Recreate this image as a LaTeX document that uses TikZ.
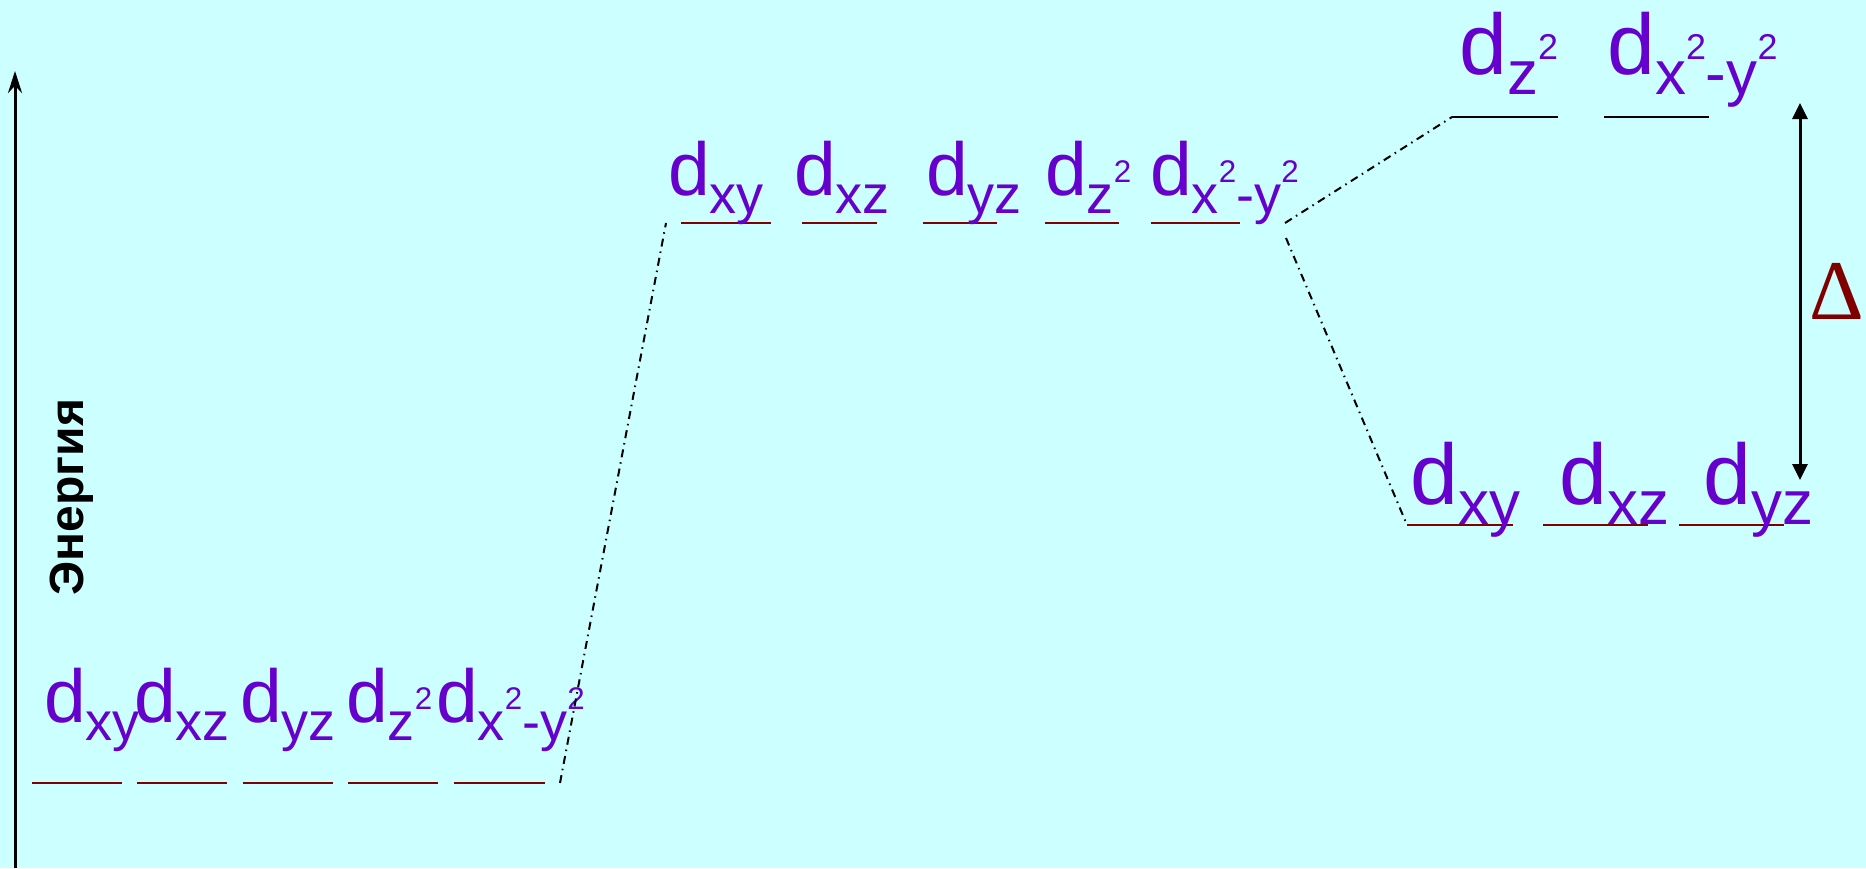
\documentclass[tikz,border=0pt]{standalone}
\usepackage{fontspec}
\setmainfont{Liberation Sans}
\newfontfamily\deltafont{Liberation Serif}
\usepackage{graphicx}
\usetikzlibrary{arrows.meta, positioning, calc}
\definecolor{bgcyan}{HTML}{CCFFFF}
\definecolor{orbviolet}{HTML}{6600CC}
\definecolor{lvlred}{HTML}{800000}
\newcommand\sbs[1]{\raisebox{-0.24em}{\scalebox{0.72}{#1}}}
\newcommand\sqr{\raisebox{0.56em}{\scalebox{0.58}{2}}}

\begin{document}
\begin{tikzpicture}[
  x=1pt, y=-1pt,
  lvl/.style={draw=lvlred, line width=2pt},
  lvlk/.style={draw=black, line width=2pt},
  dd/.style={draw, line width=2pt, dash pattern=on 8pt off 5pt on 1.5pt off 5pt},
  orbL/.style={anchor=base west, inner sep=0pt, text=orbviolet, font=\fontsize{75}{80}\selectfont},
  orbR/.style={orbL, font=\fontsize{86}{90}\selectfont}
  ]
  \fill[bgcyan] (0,0) rectangle (1866,868);
  \useasboundingbox (0,0) rectangle (1866,868);

  % energy axis
  \coordinate (ax0) at (15,868);
  \coordinate (ax1) at (15,71);
  \draw[line width=3pt, -{Stealth[length=22pt,width=14pt]}] (ax0) -- (ax1);
  \node[rotate=90, anchor=base, inner sep=0pt, font=\fontsize{48}{50}\selectfont\bfseries] (en) at (83,497) {Энергия};

  % free ion: five degenerate levels
  \coordinate (b1a) at (32,783);  \coordinate (b1b) at (122,783);
  \coordinate (b2a) at (137,783); \coordinate (b2b) at (227,783);
  \coordinate (b3a) at (243,783); \coordinate (b3b) at (333,783);
  \coordinate (b4a) at (348,783); \coordinate (b4b) at (438,783);
  \coordinate (b5a) at (454,783); \coordinate (b5b) at (545,783);
  \draw[lvl] (b1a) -- (b1b);
  \draw[lvl] (b2a) -- (b2b);
  \draw[lvl] (b3a) -- (b3b);
  \draw[lvl] (b4a) -- (b4b);
  \draw[lvl] (b5a) -- (b5b);
  \node[orbL] (b1) at (44,722) {d\sbs{xy}};
  \node[orbL] (b2) at (134,722) {d\sbs{xz}};
  \node[orbL] (b3) at (240,722) {d\sbs{yz}};
  \node[orbL] (b4) at (346,722) {d\sbs{z\sqr}};
  \node[orbL] (b5) at (436,722) {d\sbs{x\sqr-y\sqr}};

  % spherical field: levels raised
  \coordinate (m1a) at (681,223);  \coordinate (m1b) at (771,223);
  \coordinate (m2a) at (802,223);  \coordinate (m2b) at (877,223);
  \coordinate (m3a) at (923,223);  \coordinate (m3b) at (997,223);
  \coordinate (m4a) at (1045,223); \coordinate (m4b) at (1119,223);
  \coordinate (m5a) at (1151,223); \coordinate (m5b) at (1240,223);
  \draw[lvl] (m1a) -- (m1b);
  \draw[lvl] (m2a) -- (m2b);
  \draw[lvl] (m3a) -- (m3b);
  \draw[lvl] (m4a) -- (m4b);
  \draw[lvl] (m5a) -- (m5b);
  \node[orbL] (m1) at (668,195) {d\sbs{xy}};
  \node[orbL] (m2) at (794,195) {d\sbs{xz}};
  \node[orbL] (m3) at (926,195) {d\sbs{yz}};
  \node[orbL] (m4) at (1045,195) {d\sbs{z\sqr}};
  \node[orbL] (m5) at (1150,195) {d\sbs{x\sqr-y\sqr}};

  % octahedral field: e_g up, t_2g down
  \coordinate (t1a) at (1452,117); \coordinate (t1b) at (1558,117);
  \coordinate (t2a) at (1604,117); \coordinate (t2b) at (1709,117);
  \draw[lvlk] (t1a) -- (t1b);
  \draw[lvlk] (t2a) -- (t2b);
  \node[orbR] (t1) at (1459,74) {d\sbs{z\sqr}};
  \node[orbR] (t2) at (1607,74) {d\sbs{x\sqr-y\sqr}};

  \coordinate (r1a) at (1407,525); \coordinate (r1b) at (1513,525);
  \coordinate (r2a) at (1543,525); \coordinate (r2b) at (1648,525);
  \coordinate (r3a) at (1679,525); \coordinate (r3b) at (1784,525);
  \draw[lvl] (r1a) -- (r1b);
  \draw[lvl] (r2a) -- (r2b);
  \draw[lvl] (r3a) -- (r3b);
  \node[orbR] (r1) at (1410,504) {d\sbs{xy}};
  \node[orbR] (r2) at (1559,504) {d\sbs{xz}};
  \node[orbR] (r3) at (1703,504) {d\sbs{yz}};

  % dash-dot correlation lines
  \coordinate (m5c) at (1286,238);
  \draw[dd] (560,783) -- (666,223);
  \draw[dd] (1285,223) -- (t1a);
  \draw[dd] (m5c) -- (r1a);

  % splitting Delta
  \coordinate (dl0) at (1800,480);
  \coordinate (dl1) at (1800,103);
  \draw[line width=3pt, {Triangle[length=16pt,width=15pt]}-{Triangle[length=16pt,width=15pt]}] (dl0) -- (dl1);
  \node[anchor=base, inner sep=0pt, text=lvlred, font=\fontsize{85}{90}\deltafont] (delta) at (1837,319) {Δ};
\end{tikzpicture}
\end{document}
